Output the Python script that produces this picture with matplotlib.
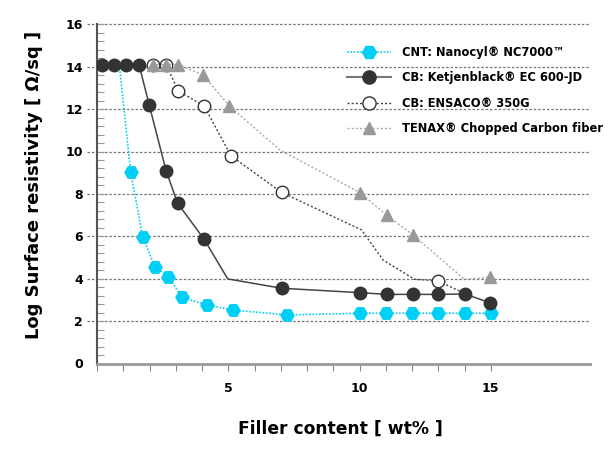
import matplotlib
matplotlib.use("Agg")
import matplotlib.pyplot as plt
from matplotlib.ticker import FixedLocator, MultipleLocator

# --- Data ---
cnt_x = [1.28, 1.74, 2.21, 2.72, 3.25, 4.18, 5.19, 7.23, 10, 11, 12, 13, 14, 15]
cnt_y = [9.05, 5.98, 4.54, 4.09, 3.12, 2.76, 2.52, 2.29, 2.37, 2.37, 2.37, 2.37, 2.37, 2.37]
# the line starts from a point hidden under the black circles
cnt_line_x = [0.85] + cnt_x
cnt_line_y = [14.1] + cnt_y

# marked points and the line path (line has unmarked bends)
kb_x = [0.2, 0.65, 1.12, 1.6, 1.99, 2.63, 3.07, 4.08, 7.03, 10.03, 11.03, 12.03, 13.0, 14.0, 14.97]
kb_y = [14.1, 14.1, 14.1, 14.1, 12.19, 9.1, 7.56, 5.86, 3.55, 3.34, 3.26, 3.26, 3.26, 3.28, 2.87]
kb_line_x = [0.2, 1.6, 1.99, 2.63, 3.07, 4.08, 4.98, 7.03, 10.03, 11.03, 12.03, 13.0, 14.0, 14.97]
kb_line_y = [14.1, 14.1, 12.19, 9.1, 7.56, 5.86, 3.99, 3.55, 3.34, 3.26, 3.26, 3.26, 3.28, 2.87]

ens_x = [2.12, 2.63, 3.1, 4.08, 5.1, 7.03, 12.98]
ens_y = [14.1, 14.1, 12.85, 12.15, 9.8, 8.07, 3.9]
ens_line_x = [1.6, 2.12, 2.63, 3.1, 4.08, 5.1, 7.03, 10.08, 10.9, 12.1, 12.98, 14.0]
ens_line_y = [14.1, 14.1, 14.1, 12.85, 12.15, 9.8, 8.07, 6.3, 4.88, 3.97, 3.9, 3.31]

ten_x = [2.12, 2.63, 3.1, 4.05, 5.04, 10.02, 11.03, 12.05, 14.97]
ten_y = [14.1, 14.1, 14.1, 13.6, 12.15, 8.06, 7.0, 6.05, 4.07]
ten_line_x = [2.12, 3.1, 4.05, 5.04, 6.97, 10.02, 11.03, 12.05, 14.0, 14.97]
ten_line_y = [14.1, 14.1, 13.6, 12.15, 10.07, 8.06, 7.0, 6.05, 3.97, 4.07]

labels = ["CNT: Nanocyl\u00ae NC7000\u2122",
          "CB: Ketjenblack\u00ae EC 600-JD",
          "CB: ENSACO\u00ae 350G",
          "TENAX\u00ae Chopped Carbon fiber"]

x_ticks = list(range(0, 16))
x_ticklabels = ["5" if t == 5 else "10" if t == 10 else "15" if t == 15 else "" for t in x_ticks]
y_ticks = [0, 2, 4, 6, 8, 10, 12, 14, 16]
grid_y = [2, 4, 6, 8, 10, 12, 14, 16]

cyan = "#00cff5"
dark = "#333333"
mid = "#444444"
light = "#999999"

fig = plt.figure(figsize=(6.14, 4.51), dpi=100)
ax = fig.add_axes((97 / 614, 1 - 363.5 / 451, 493 / 614, 339.2 / 451))
ax.set_xlim(0, 18.78)
ax.set_ylim(0, 16)

# --- gridlines, extended a bit left of the axis ---
ax.hlines(grid_y, -0.02, 1, transform=ax.get_yaxis_transform(), colors="#777777",
          linestyles=(0, (2, 1.5)), linewidth=0.9, clip_on=False, zorder=1)

# --- series ---
ax.plot(cnt_line_x, cnt_line_y, color=cyan, linestyle=(0, (1, 1)), linewidth=1.2, zorder=2)
ax.plot(cnt_x, cnt_y, linestyle="none", marker="H", markersize=9.5,
        markerfacecolor=cyan, markeredgecolor=cyan, zorder=3)

ax.plot(ens_line_x, ens_line_y, color=mid, linestyle=(0, (1.5, 1.5)), linewidth=1.0, zorder=4)
ax.plot(ens_x, ens_y, linestyle="none", marker="o", markersize=9,
        markerfacecolor="white", markeredgecolor=dark, markeredgewidth=1.0, zorder=5)

ax.plot(ten_line_x, ten_line_y, color="#aaaaaa", linestyle=(0, (1.5, 1.5)), linewidth=1.0, zorder=6)
ax.plot(ten_x, ten_y, linestyle="none", marker="^", markersize=8,
        markerfacecolor=light, markeredgecolor=light, zorder=7)

ax.plot(kb_line_x, kb_line_y, color=mid, linestyle="-", linewidth=1.1, zorder=8)
ax.plot(kb_x, kb_y, linestyle="none", marker="o", markersize=9,
        markerfacecolor=dark, markeredgecolor=dark, zorder=9)

# --- legend handles (line + marker) ---
h_cnt, = ax.plot([], [], color=cyan, linestyle=(0, (1, 1)), linewidth=1.2,
                 marker="H", markersize=10, markerfacecolor=cyan, markeredgecolor=cyan)
h_kb, = ax.plot([], [], color="#777777", linestyle="-", linewidth=1.5,
                marker="o", markersize=9.5, markerfacecolor=dark, markeredgecolor=dark)
h_ens, = ax.plot([], [], color=mid, linestyle=(0, (1.5, 1.5)), linewidth=1.0,
                 marker="o", markersize=9.5, markerfacecolor="white", markeredgecolor=dark)
h_ten, = ax.plot([], [], color="#aaaaaa", linestyle=(0, (1.5, 1.5)), linewidth=1.0,
                 marker="^", markersize=9, markerfacecolor=light, markeredgecolor=light)
leg = ax.legend([h_cnt, h_kb, h_ens, h_ten], labels, loc="upper left",
                bbox_to_anchor=(0.508, 0.935), frameon=False, borderaxespad=0, borderpad=0,
                handlelength=3.8, handletextpad=0.9, labelspacing=1.05,
                prop={"weight": "bold", "size": 8.3}, numpoints=1)

# --- spines ---
for s in ("top", "right"):
    ax.spines[s].set_visible(False)
ax.spines["left"].set_color("#555555")
ax.spines["left"].set_linewidth(1.5)
ax.spines["bottom"].set_color("#999999")
ax.spines["bottom"].set_linewidth(2)

# --- ticks ---
ax.xaxis.set_major_locator(FixedLocator(x_ticks))
ax.set_xticklabels(x_ticklabels)
ax.tick_params(axis="x", direction="out", length=5, width=0.8, color="#888888",
               pad=8, labelsize=9)
ax.yaxis.set_major_locator(FixedLocator(y_ticks))
ax.yaxis.set_minor_locator(MultipleLocator(0.4))
ax.tick_params(axis="y", which="both", direction="in", length=5, width=0.8,
               color="#999999", pad=10, labelsize=9)
for lab in ax.get_xticklabels() + ax.get_yticklabels():
    lab.set_fontweight("bold")

ax.set_xlabel("Filler content [ wt% ]", fontsize=12.3, fontweight="bold")
ax.set_ylabel("Log Surface resistivity [ \u03a9/sq ]", fontsize=13, fontweight="bold")
ax.xaxis.set_label_coords((340 - 97) / 493, -(420 - 363.5) / 339.2)
ax.yaxis.set_label_coords(-(97 - 43) / 493, (363.5 - 185) / 339.2)

fig.savefig("out.png", dpi=100)
